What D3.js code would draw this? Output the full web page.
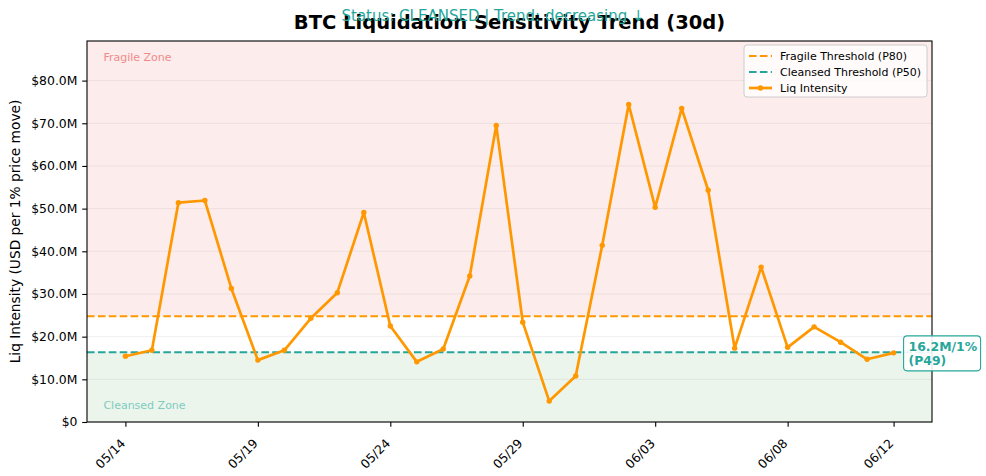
<!DOCTYPE html>
<html><head><meta charset="utf-8">
<script src="https://cdn.jsdelivr.net/npm/d3@7"></script>
<style>body{margin:0;background:#fff;} text{font-family:"DejaVu Sans",sans-serif;}</style>
</head><body><svg id="c" width="986" height="476"></svg>
<script>
const dates = ["2024-05-14","2024-05-15","2024-05-16","2024-05-17","2024-05-18","2024-05-19","2024-05-20","2024-05-21","2024-05-22","2024-05-23","2024-05-24","2024-05-25","2024-05-26","2024-05-27","2024-05-28","2024-05-29","2024-05-30","2024-05-31","2024-06-01","2024-06-02","2024-06-03","2024-06-04","2024-06-05","2024-06-06","2024-06-07","2024-06-08","2024-06-09","2024-06-10","2024-06-11","2024-06-12"];
const liqIntensity = [15.4,16.8,51.4,51.9,31.3,14.5,16.8,24.3,30.3,49.1,22.5,14.1,17.1,34.2,69.5,23.4,4.9,10.8,41.4,74.4,50.3,73.5,54.3,17.3,36.3,17.5,22.3,18.7,14.7,16.2];
const fragileThreshold = 24.8;   // P80
const cleansedThreshold = 16.35; // P50
const yTicks = [0,10,20,30,40,50,60,70,80];
const xTickDates = ["2024-05-14","2024-05-19","2024-05-24","2024-05-29","2024-06-03","2024-06-08","2024-06-12"];
const titleText = "BTC Liquidation Sensitivity Trend (30d)";
const subtitleText = "Status: CLEANSED | Trend: decreasing \u2193";
const yLabel = "Liq Intensity (USD per 1% price move)";
const legendLabels = ["Fragile Threshold (P80)","Cleansed Threshold (P50)","Liq Intensity"];
const annotationLines = ["16.2M/1%","(P49)"];

const ORANGE="#ff9800", TEAL="#26a69a";
const svg=d3.select("#c");
const m={l:87,r:932,t:41,b:422};
const parse=d3.utcParse("%Y-%m-%d");
const D=dates.map(parse);
const span=(D[D.length-1]-D[0]);
const pad=span*0.05;
const x=d3.scaleUtc().domain([new Date(+D[0]-pad),new Date(+D[D.length-1]+pad)]).range([m.l,m.r]);
const yMax=d3.max(liqIntensity)*1.2;
const y=d3.scaleLinear().domain([0,yMax]).range([m.b,m.t]);

// zones
svg.append("rect").attr("x",m.l).attr("width",m.r-m.l).attr("y",m.t).attr("height",y(fragileThreshold)-m.t).attr("fill","#fdecec");
svg.append("rect").attr("x",m.l).attr("width",m.r-m.l).attr("y",y(cleansedThreshold)).attr("height",m.b-y(cleansedThreshold)).attr("fill","#ebf5ec");

// grid
svg.append("g").selectAll("line").data(yTicks).join("line")
  .attr("x1",m.l).attr("x2",m.r).attr("y1",d=>y(d)).attr("y2",d=>y(d))
  .attr("stroke","#b0b0b0").attr("stroke-opacity",0.25).attr("stroke-width",0.8);

// zone labels
svg.append("text").attr("x",x(D[0])-22).attr("y",m.t+20).attr("font-size",11).attr("fill","#f08a8a").text("Fragile Zone");
svg.append("text").attr("x",x(D[0])-22).attr("y",m.b-13).attr("font-size",11).attr("fill","#7fcbc0").text("Cleansed Zone");

// thresholds
svg.append("line").attr("x1",m.l).attr("x2",m.r).attr("y1",y(fragileThreshold)).attr("y2",y(fragileThreshold))
  .attr("stroke",ORANGE).attr("stroke-width",2).attr("stroke-dasharray","7.6,3.3");
svg.append("line").attr("x1",m.l).attr("x2",m.r).attr("y1",y(cleansedThreshold)).attr("y2",y(cleansedThreshold))
  .attr("stroke",TEAL).attr("stroke-width",2).attr("stroke-dasharray","7.6,3.3");

// line
const line=d3.line().x((d,i)=>x(D[i])).y(d=>y(d));
svg.append("path").datum(liqIntensity).attr("d",line).attr("fill","none").attr("stroke",ORANGE).attr("stroke-width",2.7).attr("stroke-linejoin","round");
svg.append("g").selectAll("circle").data(liqIntensity).join("circle")
  .attr("cx",(d,i)=>x(D[i])).attr("cy",d=>y(d)).attr("r",2.7).attr("fill",ORANGE);

// spines
svg.append("rect").attr("x",m.l).attr("y",m.t).attr("width",m.r-m.l).attr("height",m.b-m.t).attr("fill","none").attr("stroke","#000").attr("stroke-width",1.1);

// y axis
const ya=svg.append("g").attr("transform",`translate(${m.l},0)`).call(d3.axisLeft(y).tickValues(yTicks).tickSize(4.8).tickPadding(4.8).tickFormat(d=>d===0?"$0":"$"+d.toFixed(1)+"M"));
ya.select(".domain").remove();
ya.selectAll("text").attr("font-size",12.4).attr("font-family","DejaVu Sans").attr("fill","#000");
ya.selectAll("line").attr("stroke","#000").attr("stroke-width",1.1);

// x axis
const xa=svg.append("g").attr("transform",`translate(0,${m.b})`).call(d3.axisBottom(x).tickValues(xTickDates.map(parse)).tickSize(4.8).tickFormat(d3.utcFormat("%m/%d")));
xa.select(".domain").remove();
xa.selectAll("line").attr("stroke","#000").attr("stroke-width",1.1);
xa.selectAll("text").attr("font-size",12.4).attr("font-family","DejaVu Sans").attr("fill","#000")
  .attr("text-anchor","end").attr("dy",null).attr("y",null)
  .attr("transform","translate(-3,19) rotate(-45)").attr("dominant-baseline","central");

// y label
svg.append("text").attr("transform",`translate(20,${(m.t+m.b)/2}) rotate(-90)`).attr("text-anchor","middle")
  .attr("font-size",13.75).text(yLabel);

// title / subtitle
svg.append("text").attr("x",(m.l+m.r)/2).attr("y",28.5).attr("text-anchor","middle").attr("font-size",19.5).attr("font-weight","bold").text(titleText);
svg.append("text").attr("x",493).attr("y",21).attr("text-anchor","middle").attr("font-size",15).attr("fill",TEAL).text(subtitleText);

// legend
const lg=svg.append("g").attr("transform","translate(744,45)");
lg.append("rect").attr("width",183).attr("height",52).attr("rx",3).attr("fill","#fff").attr("fill-opacity",0.8).attr("stroke","#cccccc").attr("stroke-width",1);
const lcols=[ORANGE,TEAL,ORANGE];
legendLabels.forEach((t,i)=>{
  const yy=11+i*16;
  const l=lg.append("line").attr("x1",5).attr("x2",28).attr("y1",yy).attr("y2",yy).attr("stroke",lcols[i]).attr("stroke-width",i<2?2:2.7);
  if(i<2) l.attr("stroke-dasharray","7.6,3.3");
  else lg.append("circle").attr("cx",16.5).attr("cy",yy).attr("r",2.7).attr("fill",ORANGE);
  lg.append("text").attr("x",36).attr("y",yy).attr("dy","0.36em").attr("font-size",11).text(t);
});

// annotation
const last=liqIntensity.length-1;
const ax=x(D[last])+10, ay=y(liqIntensity[last]);
const ag=svg.append("g");
ag.append("rect").attr("x",ax).attr("y",ay-17).attr("width",77).attr("height",35).attr("rx",3.5)
  .attr("fill","#fff").attr("fill-opacity",0.9).attr("stroke",TEAL).attr("stroke-width",1.1);
annotationLines.forEach((t,i)=>{
  ag.append("text").attr("x",ax+5).attr("y",ay-2+i*14).attr("font-size",12.4).attr("font-weight","bold").attr("fill",TEAL).text(t);
});
</script></body></html>
